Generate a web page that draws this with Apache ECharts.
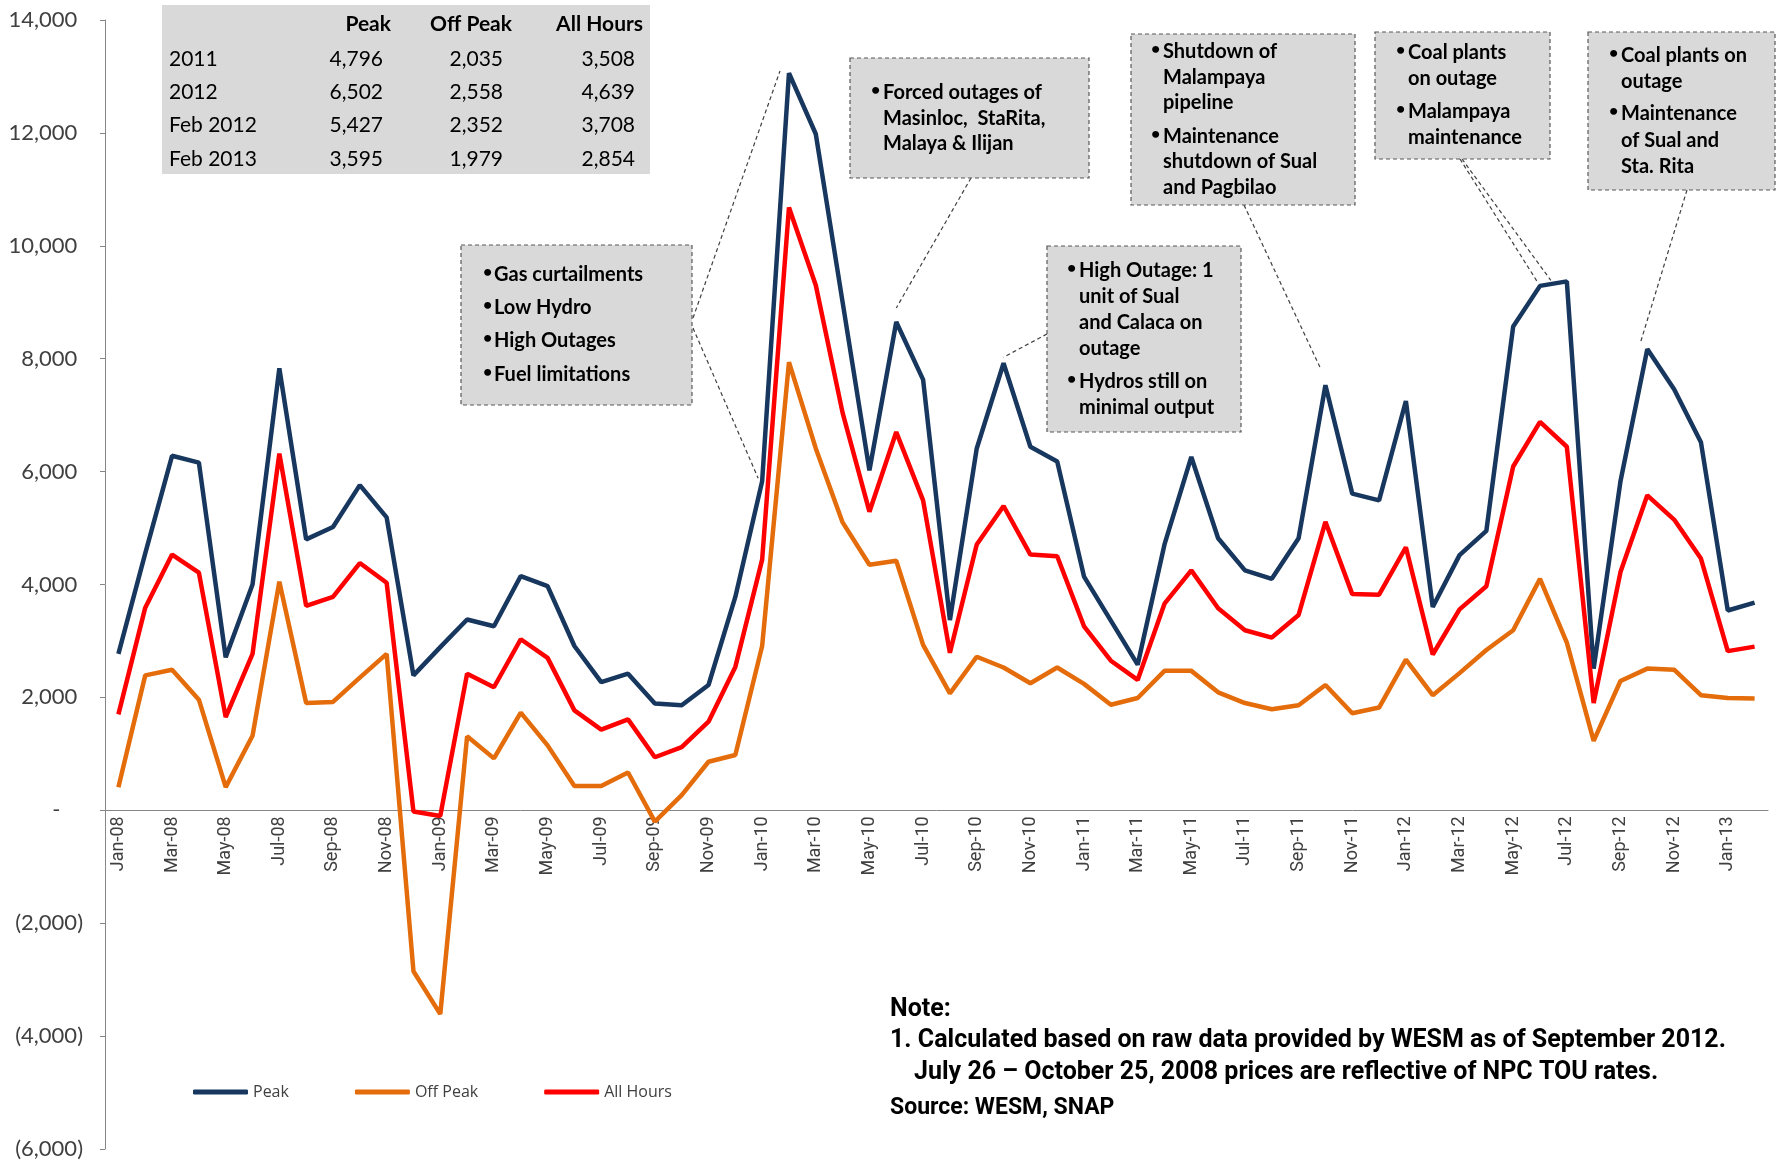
<!DOCTYPE html>
<html>
<head>
<meta charset="utf-8">
<script src="https://cdn.jsdelivr.net/npm/echarts@6/dist/echarts.min.js"></script>
<style>
  html, body { margin: 0; padding: 0; background: #fff; }
  #main { width: 1777px; height: 1161px; }
</style>
</head>
<body>
<div id="main"></div>
<script>
// months Jan-08 .. Feb-13
var months = [
  'Jan-08','Feb-08','Mar-08','Apr-08','May-08','Jun-08','Jul-08','Aug-08','Sep-08','Oct-08','Nov-08','Dec-08',
  'Jan-09','Feb-09','Mar-09','Apr-09','May-09','Jun-09','Jul-09','Aug-09','Sep-09','Oct-09','Nov-09','Dec-09',
  'Jan-10','Feb-10','Mar-10','Apr-10','May-10','Jun-10','Jul-10','Aug-10','Sep-10','Oct-10','Nov-10','Dec-10',
  'Jan-11','Feb-11','Mar-11','Apr-11','May-11','Jun-11','Jul-11','Aug-11','Sep-11','Oct-11','Nov-11','Dec-11',
  'Jan-12','Feb-12','Mar-12','Apr-12','May-12','Jun-12','Jul-12','Aug-12','Sep-12','Oct-12','Nov-12','Dec-12',
  'Jan-13','Feb-13'
];

var peak = [
  2770, 4550, 6280, 6160, 2710, 4000, 7830, 4800, 5020, 5760, 5190, 2390,
  2890, 3380, 3260, 4150, 3970, 2910, 2270, 2420, 1890, 1860, 2220, 3780,
  5830, 13060, 11980, 9000, 6020, 8650, 7630, 3370, 6410, 7920, 6440, 6180,
  4140, 3360, 2580, 4710, 6260, 4820, 4250, 4100, 4820, 7530, 5610, 5490,
  7250, 3600, 4520, 4950, 8570, 9290, 9370, 2510, 5830, 8170, 7460, 6520,
  3540, 3680
];

var offPeak = [
  410, 2390, 2490, 1960, 410, 1320, 4050, 1900, 1920, 2350, 2770, -2850,
  -3610, 1310, 920, 1730, 1150, 430, 430, 670, -200, 270, 860, 980,
  2910, 7940, 6410, 5100, 4350, 4420, 2930, 2070, 2720, 2530, 2250, 2530,
  2240, 1870, 1990, 2470, 2470, 2090, 1900, 1790, 1860, 2220, 1720, 1820,
  2670, 2040, 2430, 2840, 3190, 4100, 2970, 1230, 2290, 2510, 2490, 2040,
  1990, 1980
];

var allHours = [
  1700, 3590, 4530, 4210, 1650, 2770, 6320, 3620, 3780, 4380, 4030, -20,
  -100, 2420, 2180, 3030, 2700, 1770, 1430, 1610, 940, 1120, 1570, 2540,
  4440, 10680, 9300, 7040, 5290, 6700, 5490, 2790, 4710, 5390, 4530, 4500,
  3260, 2650, 2310, 3660, 4250, 3580, 3190, 3060, 3460, 5110, 3830, 3820,
  4660, 2760, 3560, 3970, 6090, 6880, 6440, 1900, 4220, 5580, 5150, 4460,
  2820, 2900
];

// summary table
var tableHeads = ['Peak', 'Off Peak', 'All Hours'];
var tableRows = ['2011', '2012', 'Feb 2012', 'Feb 2013'];
var tablePeak = ['4,796', '6,502', '5,427', '3,595'];
var tableOffPeak = ['2,035', '2,558', '2,352', '1,979'];
var tableAllHours = ['3,508', '4,639', '3,708', '2,854'];

var noteLines = [
  'Note:',
  '1. Calculated based on raw data provided by WESM as of September 2012.',
  'July 26 \u2013 October 25, 2008 prices are reflective of NPC TOU rates.',
  'Source: WESM, SNAP'
];

// callout boxes (layout only)
var callouts = [
  {x: 461, y: 245, w: 231, h: 160, bx: 483, tx: 494, lines: [
    [1, 'Gas curtailments', 275], [1, 'Low Hydro', 308], [1, 'High Outages', 341], [1, 'Fuel limitations', 375]]},
  {x: 850, y: 58, w: 239, h: 120, bx: 871, tx: 883, lines: [
    [1, 'Forced outages of', 93], [0, 'Masinloc,  StaRita,', 119], [0, 'Malaya & Ilijan', 144]]},
  {x: 1131, y: 34, w: 224, h: 171, bx: 1151, tx: 1163, lines: [
    [1, 'Shutdown of', 52], [0, 'Malampaya', 78], [0, 'pipeline', 103],
    [1, 'Maintenance', 137], [0, 'shutdown of Sual', 162], [0, 'and Pagbilao', 188]]},
  {x: 1047, y: 246, w: 194, h: 186, bx: 1067, tx: 1079, lines: [
    [1, 'High Outage: 1', 271], [0, 'unit of Sual', 297], [0, 'and Calaca on', 323], [0, 'outage', 349],
    [1, 'Hydros still on', 382], [0, 'minimal output', 408]]},
  {x: 1375, y: 32, w: 175, h: 127, bx: 1396, tx: 1408, lines: [
    [1, 'Coal plants', 53], [0, 'on outage', 79], [1, 'Malampaya', 112], [0, 'maintenance', 138]]},
  {x: 1588, y: 32, w: 187, h: 158, bx: 1609, tx: 1621, lines: [
    [1, 'Coal plants on', 56], [0, 'outage', 82], [1, 'Maintenance', 114], [0, 'of Sual and', 141], [0, 'Sta. Rita', 167]]}
];

// dashed leader lines: box edge -> peak point (month index)
var leaders = [
  {i: 25, from: [693, 318], off: [-9, -2]},
  {i: 24, from: [693, 328], off: [-4, -3]},
  {i: 29, from: [971, 178], off: [0, -14]},
  {i: 45, from: [1244, 205], off: [-5, -17]},
  {i: 33, from: [1047, 334], off: [0, -6]},
  {i: 53, from: [1460, 159], off: [-2, -3]},
  {i: 54, from: [1462, 159], off: [-16, -1]},
  {i: 57, from: [1687, 190], off: [-7, -6]}
];

function fmtY(v) {
  if (v === 0) return '-    ';
  var s = Math.abs(v).toLocaleString('en-US');
  return v < 0 ? '(' + s + ')' : s + ' ';
}

var chart = echarts.init(document.getElementById('main'));

var option = {
  animation: false,
  backgroundColor: '#fff',
  grid: { left: 105, right: 9, top: 20, bottom: 12, containLabel: false, outerBoundsMode: 'none' },
  legend: {
    data: ['Peak', 'Off Peak', 'All Hours'],
    left: 193,
    top: 1084,
    padding: 0,
    icon: 'roundRect',
    itemWidth: 55,
    itemHeight: 5,
    itemGap: 66,
    textStyle: { fontFamily: 'Open Sans', fontSize: 16, color: '#404040' }
  },
  xAxis: {
    type: 'category',
    data: months,
    boundaryGap: true,
    axisLine: { onZero: false, lineStyle: { color: '#868686', width: 1 } },
    axisTick: { interval: 1, length: 5, lineStyle: { color: '#868686' } },
    axisLabel: {
      interval: 1, rotate: 90, margin: 6,
      fontFamily: 'Roboto', fontSize: 18, color: '#404040'
    },
    splitLine: { show: false }
  },
  yAxis: {
    type: 'value',
    min: -6000,
    max: 14000,
    interval: 2000,
    axisLine: { show: true, lineStyle: { color: '#868686', width: 1 } },
    axisTick: { show: true, length: 5, lineStyle: { color: '#868686' } },
    axisLabel: { margin: 22, fontFamily: 'Lato', fontSize: 22, color: '#404040', formatter: fmtY },
    splitLine: { show: false }
  },
  series: [
    { name: 'Peak', type: 'line', data: peak, symbol: 'none', color: '#17375E',
      lineStyle: { width: 4.5, color: '#17375E' } },
    { name: 'Off Peak', type: 'line', data: offPeak, symbol: 'none', color: '#E46C0A',
      lineStyle: { width: 4.5, color: '#E46C0A' } },
    { name: 'All Hours', type: 'line', data: allHours, symbol: 'none', color: '#FF0000',
      lineStyle: { width: 4.5, color: '#FF0000' } }
  ]
};
chart.setOption(option);

// move the category axis (line, ticks, labels) up to the zero line
var zeroY = chart.convertToPixel({ yAxisIndex: 0 }, 0);
var bottomY = chart.convertToPixel({ yAxisIndex: 0 }, -6000);
chart.setOption({ xAxis: { offset: zeroY - bottomY } });

// ---- overlays: table, callouts, notes ----
var g = [];

// table
g.push({ type: 'rect', shape: { x: 162, y: 5, width: 488, height: 169 }, style: { fill: '#D9D9D9' }, z: 50 });
var colRight = [391, 512, 643];
var numRight = [383, 503, 635];
var rowY = [59, 92, 125, 159];
tableHeads.forEach(function (h, k) {
  g.push({ type: 'text', x: colRight[k], y: 24, z: 51,
    style: { text: h, font: 'bold 21px Lato', fill: '#000', align: 'right', verticalAlign: 'middle' } });
});
var cols = [tablePeak, tableOffPeak, tableAllHours];
tableRows.forEach(function (r, j) {
  g.push({ type: 'text', x: 169, y: rowY[j], z: 51,
    style: { text: r, font: '21px Lato', fill: '#000', align: 'left', verticalAlign: 'middle' } });
  cols.forEach(function (c, k) {
    g.push({ type: 'text', x: numRight[k], y: rowY[j], z: 51,
      style: { text: c[j], font: '21px Lato', fill: '#000', align: 'right', verticalAlign: 'middle' } });
  });
});

// leader lines (end computed from the data point)
leaders.forEach(function (l) {
  var p = chart.convertToPixel({ seriesIndex: 0 }, [l.i, peak[l.i]]);
  g.push({ type: 'line', z: 40,
    shape: { x1: l.from[0], y1: l.from[1], x2: p[0] + l.off[0], y2: p[1] + l.off[1] },
    style: { stroke: '#404040', lineWidth: 1.2, lineDash: [4, 3] } });
});

// callout boxes
callouts.forEach(function (c) {
  g.push({ type: 'rect', z: 50, shape: { x: c.x, y: c.y, width: c.w, height: c.h },
    style: { fill: '#D9D9D9', stroke: '#595959', lineWidth: 1.2, lineDash: [4, 3] } });
  c.lines.forEach(function (ln) {
    if (ln[0]) {
      g.push({ type: 'text', x: c.bx, y: ln[2] - 3, z: 51,
        style: { text: '\u2022', font: 'bold 16px Lato', fill: '#000', align: 'left', verticalAlign: 'middle' } });
    }
    g.push({ type: 'text', x: c.tx, y: ln[2], z: 51,
      style: { text: ln[1], font: 'bold 20px Lato', fill: '#000', align: 'left', verticalAlign: 'middle' } });
  });
});

// note
g.push({ type: 'text', x: 890, y: 1010, z: 51,
  style: { text: noteLines[0], font: 'bold 25px Roboto', fill: '#000', verticalAlign: 'middle' } });
g.push({ type: 'text', x: 890, y: 1041, z: 51,
  style: { text: noteLines[1], font: 'bold 25px Roboto', fill: '#000', verticalAlign: 'middle' } });
g.push({ type: 'text', x: 914, y: 1073, z: 51,
  style: { text: noteLines[2], font: 'bold 25px Roboto', fill: '#000', verticalAlign: 'middle' } });
g.push({ type: 'text', x: 890, y: 1108, z: 51,
  style: { text: noteLines[3], font: 'bold 23px Roboto', fill: '#000', verticalAlign: 'middle' } });

chart.setOption({ graphic: g });
</script>
</body>
</html>
